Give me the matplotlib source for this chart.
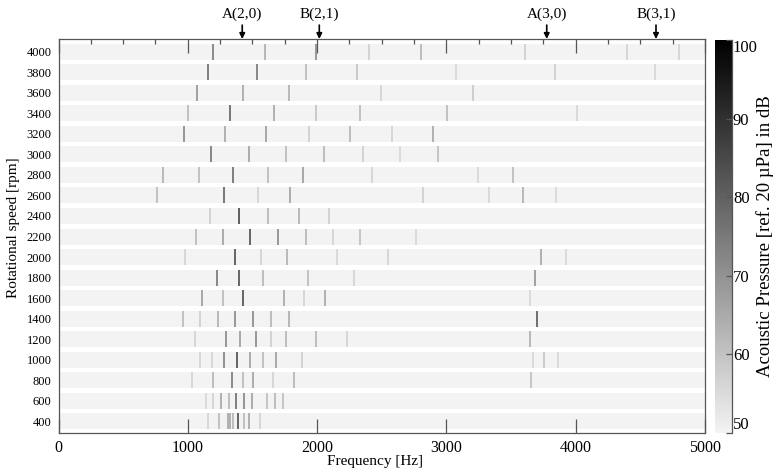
#!/usr/bin/env python3

import numpy as np
import matplotlib
matplotlib.use('Agg')
import matplotlib.pyplot as plt
from matplotlib.colors import LinearSegmentedColormap, Normalize
from matplotlib.cm import ScalarMappable
from matplotlib.ticker import MultipleLocator

plt.rcParams['font.family'] = ['Liberation Serif', 'DejaVu Serif']

#------------------------------------------------------------
# data
#------------------------------------------------------------
rpm = [400, 600, 800, 1000, 1200, 1400, 1600, 1800, 2000, 2200,
       2400, 2600, 2800, 3000, 3200, 3400, 3600, 3800, 4000]

# peak frequencies [Hz] per rotational speed (same order as rpm)
peak_hz = [
    [1154, 1239, 1308, 1329, 1350, 1391, 1432, 1471, 1556],
    [1141, 1195, 1257, 1316, 1373, 1432, 1494, 1613, 1674, 1734],
    [1033, 1192, 1344, 1424, 1507, 1659, 1819, 3652],
    [1092, 1187, 1283, 1381, 1478, 1582, 1682, 1883, 3667, 3757, 3861],
    [1058, 1293, 1406, 1525, 1643, 1762, 1994, 2231, 3647],
    [960, 1097, 1234, 1368, 1504, 1643, 1780, 3698],
    [1110, 1270, 1424, 1741, 1901, 2064, 3647],
    [1226, 1399, 1579, 1927, 2283, 3685],
    [981, 1368, 1566, 1765, 2154, 2551, 3729, 3922],
    [1066, 1272, 1484, 1698, 1912, 2126, 2334, 2762],
    [1169, 1393, 1623, 1858, 2094],
    [762, 1277, 1543, 1793, 2822, 3332, 3590, 3845],
    [808, 1084, 1347, 1623, 1891, 2425, 3247, 3518],
    [1177, 1471, 1762, 2056, 2352, 2641, 2938],
    [968, 1285, 1607, 1935, 2257, 2577, 2899],
    [999, 1329, 1664, 1994, 2334, 3002, 4007],
    [1071, 1424, 1785, 2497, 3208],
    [1154, 1535, 1917, 2309, 3074, 3840, 4613],
    [1197, 1597, 1994, 2399, 2801, 3605, 4399, 4796],
]

# peak levels [dB]
peak_db = [
    [57, 62, 66, 66, 63, 84, 62, 66, 57],
    [56, 57, 66, 63, 78, 73, 67, 61, 63, 61],
    [57, 63, 75, 62, 67, 57, 63, 61],
    [57, 57, 74, 84, 67, 62, 68, 58, 56, 60, 56],
    [57, 72, 68, 72, 58, 63, 63, 57, 64],
    [62, 58, 64, 72, 72, 63, 65, 82],
    [68, 62, 84, 66, 57, 66, 56],
    [76, 84, 63, 62, 57, 70],
    [57, 84, 57, 64, 56, 57, 66, 56],
    [62, 67, 84, 72, 63, 57, 61, 56],
    [58, 86, 63, 64, 58],
    [62, 80, 57, 67, 58, 56, 64, 56],
    [64, 62, 78, 62, 68, 57, 56, 62],
    [76, 67, 62, 63, 58, 56, 61],
    [72, 66, 68, 58, 63, 57, 66],
    [62, 80, 66, 60, 62, 62, 56],
    [70, 66, 64, 57, 59],
    [78, 76, 62, 60, 56, 58, 56],
    [75, 65, 72, 58, 63, 58, 57, 57],
]

background_db = 50

mode_labels = ['A(2,0)', 'B(2,1)', 'A(3,0)', 'B(3,1)']
mode_hz = [1421, 2017, 3776, 4621]

#------------------------------------------------------------
# figure
#------------------------------------------------------------
W, H = 779, 474
fig = plt.figure(figsize=(W / 100, H / 100), dpi=100)
ax = fig.add_axes([58.5 / W, 1 - 433 / H, (705 - 58.5) / W, (433 - 39) / H])
cax = fig.add_axes([715 / W, 1 - 433 / H, 16.5 / W, (433 - 40) / H])

cmap = LinearSegmentedColormap.from_list('spl', ['#f3f3f3', '#000000'])
norm = Normalize(vmin=50, vmax=100)

half = 78
ax.barh(rpm, 5000, height=2 * half, left=0, color=cmap(norm(background_db)),
        edgecolor='none', zorder=1)

for r, fs, ls in zip(rpm, peak_hz, peak_db):
    ax.vlines(fs, r - half, r + half, colors=cmap(norm(np.array(ls))),
              linewidth=1.2, zorder=2)

ax.set_xlim(0, 5000)
ax.set_ylim(285, 4125)
ax.set_yticks(rpm)
ax.set_yticklabels([str(r) for r in rpm])
ax.xaxis.set_major_locator(MultipleLocator(1000))
ax.xaxis.set_minor_locator(MultipleLocator(250))

ax.tick_params(axis='y', length=0, pad=5, labelsize=9)
ax.tick_params(axis='x', which='major', direction='in', top=True, bottom=True,
               length=10, width=0.9, color='#555555', labelsize=11.5, pad=5)
ax.tick_params(axis='x', which='minor', direction='in', top=True, bottom=False,
               length=3.3, width=0.9, color='#555555')
for s in ax.spines.values():
    s.set_color('#555555')
    s.set_linewidth(0.9)

ax.set_xlabel('Frequency [Hz]', fontsize=11, labelpad=0)
ax.set_ylabel('Rotational speed [rpm]', fontsize=11)
ax.xaxis.set_label_coords(0.49, -0.055)
ax.yaxis.set_label_coords(-0.059, 0.522)

for lab, f in zip(mode_labels, mode_hz):
    ax.annotate(lab, xy=(f, 1.0), xycoords=ax.get_xaxis_transform(),
                xytext=(0, 13), textcoords='offset points',
                ha='center', va='bottom', fontsize=11,
                arrowprops=dict(arrowstyle='-|>', color='black', lw=1.2,
                                mutation_scale=8, shrinkA=1, shrinkB=0))

# colour bar
cb = fig.colorbar(ScalarMappable(norm=norm, cmap=cmap), cax=cax)
cb.set_ticks([50, 60, 70, 80, 90, 100])
cb.outline.set_visible(False)
cax.plot([1, 1], [0, 1], transform=cax.transAxes, color='#555555', lw=0.9,
         clip_on=False)
cax.tick_params(direction='in', length=4, width=0.9, color='#555555',
                labelsize=12, pad=1)
labels = cax.get_yticklabels()
labels[0].set_va('bottom')
labels[-1].set_va('top')
cb.set_label('Acoustic Pressure [ref. 20 µPa] in dB', fontsize=13.5, labelpad=-1)

plt.savefig('out.png', dpi=100)
